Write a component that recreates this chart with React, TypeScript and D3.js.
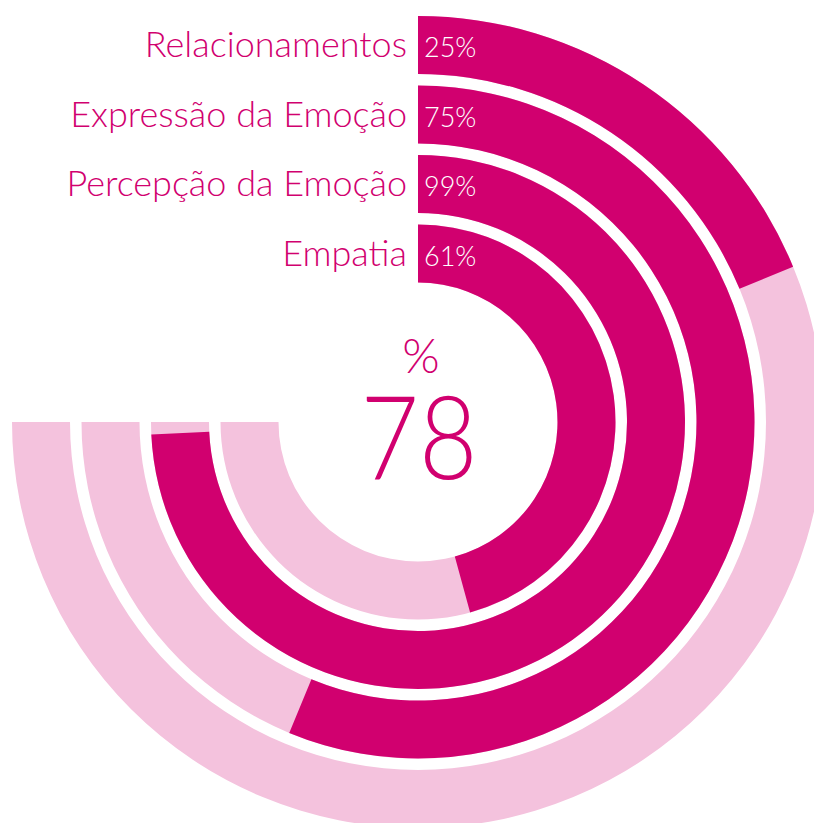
import React from "react";
import * as d3 from "d3";

const categories = ["Relacionamentos", "Expressão da Emoção", "Percepção da Emoção", "Empatia"];
const values = [25, 75, 99, 61];
const centerValue = 78;
const centerUnit = "%";

const W = 814;
const H = 823;
const CX = 418;
const CY = 422;
const DARK = "#d1006f";
const LIGHT = "#f4c2dd";
const FONT = "Lato, 'Open Sans', sans-serif";

export default function App() {
  const angle = d3.scaleLinear().domain([0, 100]).range([0, 1.5 * Math.PI]);
  const radius = d3
    .scaleBand<string>()
    .domain(categories)
    .range([406, 139.5])
    .paddingInner(11.5 / 69.5)
    .paddingOuter(0);
  const bw = radius.bandwidth();
  const arc = d3.arc<any>();

  return (
    <svg width={W} height={H} style={{ position: "absolute", left: 0, top: 0, background: "#fff" }}>
      <g transform={`translate(${CX},${CY})`}>
        {categories.map((c, i) => {
          const inner = radius(c)!;
          const outer = inner + bw;
          const track = arc({ innerRadius: inner, outerRadius: outer, startAngle: 0, endAngle: angle(100) });
          const bar = arc({ innerRadius: inner, outerRadius: outer, startAngle: 0, endAngle: angle(values[i]) });
          return (
            <g key={c}>
              <path d={track || ""} fill={LIGHT} />
              <path d={bar || ""} fill={DARK} />
            </g>
          );
        })}
        {categories.map((c, i) => {
          const inner = radius(c)!;
          const mid = inner + bw / 2;
          const y = -mid + 12;
          return (
            <g key={c + "-lab"}>
              <text x={-11} y={y} textAnchor="end" fontFamily={FONT} fontWeight={300} fontSize={36} fill={DARK}>
                {c}
              </text>
              <text x={6} y={y} textAnchor="start" fontFamily={FONT} fontWeight={300} fontSize={27} fill="#fff">
                {values[i]}%
              </text>
            </g>
          );
        })}
        <text x={3} y={-49} textAnchor="middle" fontFamily={FONT} fontWeight={300} fontSize={48} fill={DARK}>
          {centerUnit}
        </text>
        <text
          x={1}
          y={57}
          textAnchor="middle"
          fontFamily={FONT}
          fontWeight={300}
          fontSize={116}
          textLength={117}
          lengthAdjust="spacingAndGlyphs"
          fill={DARK}
        >
          {centerValue}
        </text>
      </g>
    </svg>
  );
}
